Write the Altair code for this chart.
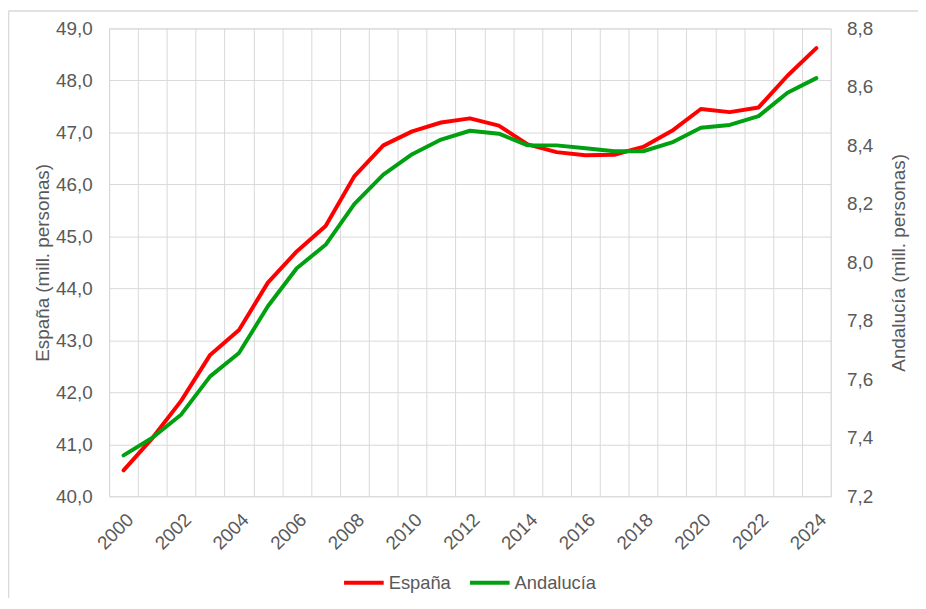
import altair as alt
import pandas as pd

years = list(range(2000, 2025))
espana = [40.50, 41.12, 41.84, 42.72, 43.20, 44.11, 44.71, 45.20, 46.16, 46.75,
          47.02, 47.19, 47.27, 47.13, 46.77, 46.62, 46.56, 46.57, 46.72, 47.03,
          47.45, 47.39, 47.48, 48.09, 48.62]
andalucia = [7.34, 7.40, 7.48, 7.61, 7.69, 7.85, 7.98, 8.06, 8.20, 8.30,
             8.37, 8.42, 8.45, 8.44, 8.40, 8.40, 8.39, 8.38, 8.38, 8.41,
             8.46, 8.47, 8.50, 8.58, 8.63]
series_names = ["España", "Andalucía"]
series_colors = ["#ff0000", "#00a010"]
left_ticks = [40, 41, 42, 43, 44, 45, 46, 47, 48, 49]
right_ticks = [7.2, 7.4, 7.6, 7.8, 8.0, 8.2, 8.4, 8.6, 8.8]

df = pd.DataFrame({"year": years, "es": espana, "an": andalucia})

TXT = "#595959"
GRID = "#d9d9d9"
FONT = "Liberation Sans"
FS = 19

grid_vals = [y - 0.5 for y in years] + [years[-1] + 0.5]
x_vals = sorted(set(grid_vals + years))
fmt = "replace(format(datum.value, '.1f'), '.', ',')"

x_enc = alt.X(
    "year:Q",
    scale=alt.Scale(domain=[1999.5, 2024.5], nice=False, zero=False),
    axis=alt.Axis(
        values=x_vals, title=None, grid=True, gridColor=GRID, gridWidth=1,
        gridOpacity={"condition": {"test": "datum.value % 1 != 0", "value": 1}, "value": 0},
        ticks=False, tickSize=0, domain=False, labelAngle=-45,
        labelAlign="right", labelBaseline="top",
        labelExpr="datum.value % 2 == 0 ? '' + datum.value : ''",
        labelOverlap=False, labelBound=False, labelPadding=14,
        labelFontSize=FS, labelColor=TXT, labelFont=FONT,
    ),
)

color_enc = alt.Color(
    "serie:N",
    scale=alt.Scale(domain=series_names, range=series_colors),
    legend=alt.Legend(
        orient="none", legendX=235, legendY=537, direction="horizontal",
        title=None, symbolType="stroke", symbolSize=1600, symbolStrokeWidth=4,
        labelFontSize=18.5, labelColor=TXT, labelFont=FONT, labelOffset=3,
        columnPadding=11,
    ),
)

base = alt.Chart(df)

line_es = base.transform_calculate(serie="'España'").mark_line(
    strokeWidth=4, strokeCap="round", strokeJoin="round"
).encode(
    x=x_enc,
    y=alt.Y(
        "es:Q",
        scale=alt.Scale(domain=[40, 49], nice=False, zero=False),
        axis=alt.Axis(
            title="España (mill. personas)", values=left_ticks, grid=True,
            gridColor=GRID, ticks=False, domain=False, labelExpr=fmt,
            labelPadding=17, labelFontSize=FS, labelColor=TXT, labelFont=FONT,
            titleFontSize=FS, titleFontWeight="normal", titleColor=TXT,
            titleFont=FONT, titlePadding=3,
        ),
    ),
    color=color_enc,
)

line_an = base.transform_calculate(serie="'Andalucía'").mark_line(
    strokeWidth=4, strokeCap="round", strokeJoin="round"
).encode(
    x=x_enc,
    y=alt.Y(
        "an:Q",
        scale=alt.Scale(domain=[7.2, 8.8], nice=False, zero=False),
        axis=alt.Axis(
            title="Andalucía (mill. personas)", orient="right", values=right_ticks,
            grid=False, ticks=False, domain=False, labelExpr=fmt,
            labelPadding=16, labelFontSize=FS, labelColor=TXT, labelFont=FONT,
            titleFontSize=FS, titleFontWeight="normal", titleColor=TXT,
            titleFont=FONT, titlePadding=17, titleAngle=270, titleBaseline="top",
        ),
    ),
    color=color_enc,
)

frame_df = pd.DataFrame({"k": [0]})
frame_left = alt.Chart(frame_df).mark_rule(color=GRID, strokeWidth=1.5).encode(
    x=alt.value(-101.5), y=alt.value(-17.5), y2=alt.value(600)
)
frame_top = alt.Chart(frame_df).mark_rule(color=GRID, strokeWidth=1.5).encode(
    x=alt.value(-101.5), x2=alt.value(830), y=alt.value(-17.5)
)

chart = alt.layer(line_es, line_an, frame_left, frame_top).resolve_scale(
    y="independent", color="shared"
).properties(
    width=728, height=472,
    autosize=alt.AutoSizeParams(type="none"),
    padding={"left": 102, "top": 18, "right": 88, "bottom": 100},
    background="white",
).configure_view(stroke=GRID, strokeWidth=1)

chart.save("out.html", embed_options={"renderer": "svg", "actions": False})
